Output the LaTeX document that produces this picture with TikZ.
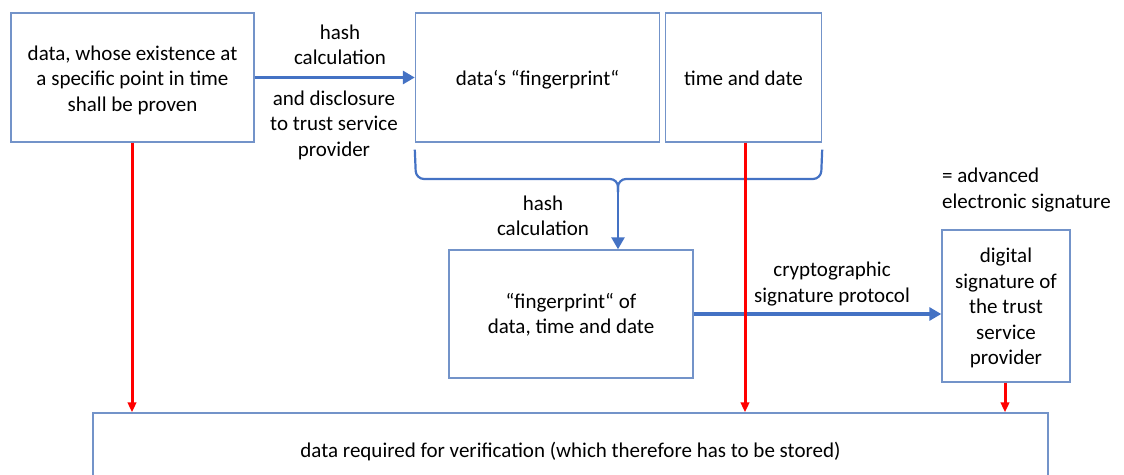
\documentclass[tikz,border=0pt]{standalone}
\usepackage{fontspec}
\setmainfont{Carlito}
\usetikzlibrary{arrows.meta}
\definecolor{boxline}{HTML}{7393C9}
\definecolor{flowblue}{HTML}{4472C4}
\definecolor{keepred}{HTML}{FF0000}
% centred lines, set slightly below the geometric middle of the box
\newcommand{\lowered}[2][2.5pt]{\raisebox{-#1}[\height][\depth]{\begin{tabular}{@{}c@{}}#2\end{tabular}}}
\begin{document}
\begin{tikzpicture}[x=1pt,y=-1pt,
  txt/.style={font=\fontsize{21}{25.5}\selectfont, align=center, inner sep=0pt},
  box/.style={txt, draw=boxline, line width=1.4pt, minimum width=#1},
  flow/.style={draw=flowblue, line width=3.4pt, -{Triangle[length=12pt,width=13pt]}},
  keep/.style={draw=keepred, line width=3pt, -{Triangle[length=10pt,width=8.5pt]}},
  lbl/.style={txt}]
\useasboundingbox (0,0) rectangle (1124,474);
\clip (0,0) rectangle (1124,474);

% source data and what is sent to the trust service provider
\node[box=243pt, minimum height=129pt] (data) at (132.5,77.5)
  {\lowered[3pt]{data, whose existence at\\a specific point in time\\shall be proven}};
\node[box=244pt, minimum height=129pt] (fp) at (537.5,77.5) {\lowered{data‘s “fingerprint“}};
\node[box=156pt, minimum height=129pt] (time) at (743.5,77.5) {\lowered{time and date}};

% hash of fingerprint plus time stamp
\node[box=244pt, minimum height=128pt] (fp2) at (571,314)
  {\lowered[2pt]{“fingerprint“ of\\data, time and date}};

% signature of the provider
\node[box=128pt, minimum height=152pt] (sig) at (1006,306)
  {\lowered{digital\\signature of\\the trust\\service\\provider}};

% everything that has to be kept
\node[box=955pt, minimum height=70pt] (store) at (570.5,448)
  {\lowered[4pt]{data required for verification (which therefore has to be stored)}};

% blue processing steps
\draw[flow] (data.east) -- (fp.west);
\node[lbl] (l1) at (340,45) {hash\\calculation};
\node[lbl] (l2) at (334,125) {and disclosure\\to trust service\\provider};

% brace joining fingerprint and time
\draw[flowblue, line width=2.2pt, rounded corners=8pt]
  (fp.south west) ++(0,7) -- (416,179) -- (618,179) -- (618,192);
\draw[flowblue, line width=2.2pt, rounded corners=8pt]
  (time.south east) ++(0,7) -- (821,179) -- (618,179) -- (618,192);
\coordinate (brace) at (618,186);
\draw[flow, line width=2.6pt] (brace) -- (brace |- fp2.north);
\node[lbl] (l3) at (543,216) {hash\\calculation};

\draw[flow] (fp2.east) -- (sig.west |- fp2.east);
\node[lbl] (l4) at (832,284) {cryptographic\\signature protocol};

\node[lbl, align=left, anchor=west] (l5) at (942,190) {= advanced\\electronic signature};

% red: items to be stored
\draw[keep] (data.south -| 132,0) -- (store.north -| 132,0);
\draw[keep] (time.south -| 745,0) -- (store.north -| 745,0);
\draw[keep] (sig.south -| 1005,0) -- (store.north -| 1005,0);
\end{tikzpicture}
\end{document}
